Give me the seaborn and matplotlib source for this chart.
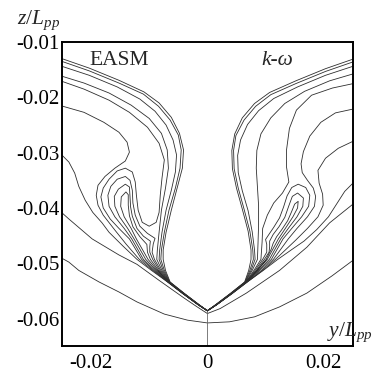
import pandas as pd
import matplotlib
matplotlib.use("Agg")
import matplotlib.pyplot as plt
import seaborn as sns
from matplotlib.ticker import MultipleLocator, FuncFormatter

# Contour lines, (y/Lpp, z/Lpp) in units of 1e-3
# EASM (left half)
easm_t1 = [(-25.5, -12.8), (-20.3, -14.7), (-15.2, -16.9), (-10.9, -19.0), (-8.3, -21.0), (-6.2, -23.6),
           (-4.8, -26.5), (-4.1, -29.5), (-4.3, -32.8), (-5.2, -36.4), (-6.2, -40.4), (-7.1, -44.4),
           (-7.6, -47.6), (-7.6, -49.3), (-7.2, -51.3), (-6.4, -53.4), (-3.9, -55.5), (-1.4, -57.5), (0, -58.6)]
easm_t2 = [(-25.5, -13.3), (-20.3, -15.2), (-15.2, -17.4), (-11.0, -19.4), (-8.4, -21.6), (-6.4, -24.1),
           (-5.0, -26.8), (-4.5, -29.5), (-4.7, -32.8), (-5.5, -36.4), (-6.6, -40.4), (-7.4, -44.4),
           (-7.9, -47.6), (-8.0, -49.3), (-7.4, -51.3), (-6.45, -53.4), (-3.95, -55.5), (-1.45, -57.5), (0, -58.6)]
easm_t3 = [(-25.5, -14.2), (-20.3, -16.0), (-15.5, -18.1), (-11.6, -20.3), (-9.0, -22.5), (-7.1, -25.0),
           (-5.9, -27.7), (-5.3, -30.4), (-5.5, -33.5), (-6.2, -36.8), (-7.1, -40.4), (-7.8, -44.4),
           (-8.2, -47.6), (-8.3, -49.3), (-7.6, -51.3), (-6.5, -53.4), (-4.0, -55.5), (-1.5, -57.5), (0, -58.6)]
easm_c4 = [(-25.5, -16.0), (-21.2, -17.4), (-16.9, -19.2), (-13.1, -21.4), (-10.0, -23.8), (-7.9, -26.5),
           (-6.9, -29.5), (-6.7, -32.8), (-7.2, -36.4), (-7.9, -40.4), (-8.3, -44.4), (-8.6, -47.6),
           (-8.7, -49.3), (-7.8, -51.3), (-6.55, -53.4), (-4.02, -55.5), (-1.52, -57.5), (0, -58.6)]
easm_c5 = [(-25.5, -16.9), (-21.2, -18.5), (-16.9, -20.5), (-13.4, -22.7), (-10.3, -25.4), (-8.3, -28.3),
           (-7.4, -31.3), (-7.8, -34.6), (-8.1, -37.7), (-8.3, -40.8), (-8.8, -42.6), (-10.0, -43.3),
           (-11.2, -42.6), (-11.9, -40.4), (-12.2, -37.7), (-12.4, -35.3), (-12.9, -33.5), (-14.1, -32.8),
           (-15.5, -33.3), (-16.9, -34.8), (-17.9, -36.4), (-18.3, -38.0), (-17.9, -40.0), (-16.7, -42.0),
           (-15.2, -43.7), (-13.4, -45.6), (-11.3, -49.3), (-9.2, -51.3), (-6.75, -53.4), (-4.18, -55.5),
           (-1.59, -57.5), (0, -58.6)]
easm_c6 = [(-25.5, -21.4), (-21.2, -22.7), (-17.8, -24.5), (-15.2, -26.3), (-13.8, -28.1), (-13.4, -29.9),
           (-14.1, -31.5), (-15.9, -32.8), (-17.6, -34.3), (-18.8, -35.9), (-19.1, -37.7), (-18.8, -39.5),
           (-17.9, -41.3), (-15.9, -44.0), (-14.0, -46.5), (-11.7, -49.3), (-9.4, -51.3), (-6.8, -53.4),
           (-4.2, -55.5), (-1.6, -57.5), (0, -58.6)]
easm_c7 = [(-25.5, -29.9), (-23.8, -31.7), (-22.8, -33.7), (-22.1, -36.1), (-21.0, -38.6), (-19.7, -40.8),
           (-18.1, -42.7), (-16.9, -44.4), (-14.5, -46.9), (-12.1, -49.3), (-9.6, -51.3), (-6.85, -53.4),
           (-4.25, -55.5), (-1.62, -57.5), (0, -58.6)]
easm_m1 = [(0, -58.6), (-1.58, -57.5), (-4.16, -55.5), (-6.72, -53.4), (-9.0, -51.3), (-11.0, -49.3),
           (-13.0, -45.6), (-14.3, -43.7), (-15.9, -41.6), (-16.9, -39.7), (-17.1, -37.7), (-16.6, -36.1),
           (-15.5, -34.8), (-14.1, -34.3), (-13.3, -35.0), (-12.9, -36.8), (-12.8, -39.1), (-12.4, -41.3),
           (-11.6, -43.3), (-10.3, -44.6), (-9.0, -45.5), (-9.3, -46.5), (-9.5, -48.0), (-9.1, -49.3),
           (-8.0, -51.3), (-6.6, -53.4), (-4.05, -55.5), (-1.53, -57.5), (0, -58.6)]
easm_m2 = [(0, -58.6), (-1.57, -57.5), (-4.14, -55.5), (-6.7, -53.4), (-8.8, -51.3), (-10.6, -49.3),
           (-12.6, -45.6), (-13.7, -43.7), (-15.1, -41.6), (-15.9, -39.7), (-16.0, -37.9), (-15.3, -36.6),
           (-14.1, -35.7), (-13.4, -36.2), (-13.3, -37.9), (-13.2, -39.8), (-12.9, -41.5), (-12.1, -43.7),
           (-11.0, -45.1), (-9.8, -46.0), (-9.9, -47.0), (-9.9, -48.0), (-9.4, -49.3), (-8.2, -51.3),
           (-6.62, -53.4), (-4.07, -55.5), (-1.54, -57.5), (0, -58.6)]
easm_m3 = [(0, -58.6), (-1.56, -57.5), (-4.12, -55.5), (-6.68, -53.4), (-8.6, -51.3), (-10.2, -49.3),
           (-12.2, -45.6), (-13.1, -43.7), (-14.3, -41.6), (-14.9, -39.7), (-14.8, -38.0), (-14.0, -37.1),
           (-13.6, -37.6), (-13.6, -39.5), (-13.4, -41.4), (-12.8, -43.4), (-11.6, -45.2), (-10.4, -46.6),
           (-10.3, -48.0), (-9.8, -49.3), (-8.4, -51.3), (-6.65, -53.4), (-4.1, -55.5), (-1.55, -57.5), (0, -58.6)]

# k-omega (right half)
kw_t1 = [(25.5, -12.9), (20.3, -14.8), (15.2, -17.0), (10.7, -19.1), (8.1, -21.1), (6.0, -23.7),
         (4.7, -26.6), (4.2, -29.6), (4.3, -32.9), (5.0, -36.4), (6.0, -40.2), (7.0, -44.2),
         (7.5, -47.6), (7.5, -49.3), (7.1, -51.3), (6.4, -53.4), (3.9, -55.5), (1.4, -57.5), (0, -58.6)]
kw_t2 = [(25.5, -13.4), (20.3, -15.3), (15.2, -17.5), (10.9, -19.5), (8.3, -21.6), (6.3, -24.1),
         (4.9, -26.9), (4.5, -29.6), (4.6, -32.9), (5.3, -36.4), (6.3, -40.2), (7.3, -44.2),
         (7.8, -47.6), (7.9, -49.3), (7.3, -51.3), (6.45, -53.4), (3.95, -55.5), (1.45, -57.5), (0, -58.6)]
kw_t3 = [(25.5, -14.2), (20.3, -16.0), (15.5, -18.1), (11.4, -20.2), (8.8, -22.4), (6.9, -24.9),
         (5.7, -27.7), (5.2, -30.5), (5.3, -33.6), (6.0, -36.9), (7.0, -40.5), (7.7, -44.3),
         (8.1, -47.6), (8.2, -49.3), (7.5, -51.3), (6.5, -53.4), (4.0, -55.5), (1.5, -57.5), (0, -58.6)]
kw_c4 = [(25.5, -15.6), (21.0, -17.0), (16.7, -18.9), (13.3, -21.1), (10.9, -23.7), (9.2, -26.6),
         (8.5, -29.6), (8.4, -32.8), (8.6, -36.2), (8.8, -39.6), (8.8, -43.0), (8.7, -46.4),
         (8.6, -49.3), (7.7, -51.3), (6.55, -53.4), (4.02, -55.5), (1.52, -57.5), (0, -58.6)]
kw_c5 = [(25.5, -17.4), (21.5, -18.3), (17.9, -19.6), (15.3, -22.3), (14.1, -25.6), (13.6, -29.5),
         (13.6, -32.6), (14.0, -35.3), (12.9, -37.3), (11.4, -39.1), (10.3, -41.3), (9.5, -43.7),
         (9.4, -46.2), (9.2, -49.3), (8.0, -51.3), (6.6, -53.4), (4.05, -55.5), (1.53, -57.5), (0, -58.6)]
kw_c6 = [(25.5, -22.0), (22.0, -22.8), (19.5, -24.5), (17.6, -27.0), (16.5, -29.8), (16.1, -32.0),
         (16.3, -33.6), (17.2, -35.0), (18.2, -36.4), (18.6, -37.9), (18.4, -39.7), (17.2, -41.6),
         (15.4, -43.7), (13.9, -45.6), (11.35, -49.3), (9.3, -51.3), (6.8, -53.4), (4.2, -55.5),
         (1.6, -57.5), (0, -58.6)]
kw_c7 = [(25.5, -27.7), (22.5, -29.2), (20.3, -31.0), (19.0, -33.2), (19.2, -35.5), (19.8, -37.5),
         (19.9, -39.5), (19.0, -41.6), (17.2, -43.7), (15.2, -45.8), (11.7, -49.3), (9.5, -51.3),
         (6.85, -53.4), (4.22, -55.5), (1.61, -57.5), (0, -58.6)]
kw_c8 = [(25.5, -35.0), (23.6, -37.0), (22.2, -39.3), (20.8, -41.6), (18.8, -43.9), (16.6, -46.0),
         (14.4, -47.6), (12.1, -49.3), (9.6, -51.3), (6.85, -53.4), (4.25, -55.5), (1.62, -57.5), (0, -58.6)]
kw_m1 = [(0, -58.6), (1.58, -57.5), (4.16, -55.5), (6.72, -53.4), (9.0, -51.3), (11.0, -49.3),
         (13.0, -45.6), (14.5, -43.7), (16.2, -41.6), (17.4, -39.7), (17.6, -37.7), (16.9, -36.3),
         (15.6, -35.7), (14.5, -36.3), (13.7, -37.8), (13.1, -39.8), (12.4, -41.8), (11.4, -43.5),
         (10.5, -44.9), (10.0, -45.7), (10.2, -46.6), (10.2, -48.0), (9.5, -49.3), (8.2, -51.3),
         (6.62, -53.4), (4.07, -55.5), (1.54, -57.5), (0, -58.6)]
kw_m2 = [(0, -58.6), (1.57, -57.5), (4.14, -55.5), (6.7, -53.4), (8.8, -51.3), (10.65, -49.3),
         (12.6, -45.6), (13.9, -43.7), (15.4, -41.6), (16.4, -39.7), (16.5, -38.2), (15.5, -37.3),
         (14.6, -37.9), (14.0, -39.6), (13.3, -41.7), (12.3, -43.4), (11.3, -44.8), (10.7, -46.0),
         (10.7, -47.0), (10.6, -48.0), (9.8, -49.3), (8.4, -51.3), (6.65, -53.4), (4.1, -55.5),
         (1.55, -57.5), (0, -58.6)]
kw_m3 = [(0, -58.6), (1.56, -57.5), (4.12, -55.5), (6.68, -53.4), (8.6, -51.3), (10.3, -49.3),
         (12.2, -45.6), (13.4, -43.7), (14.7, -41.6), (15.5, -40.0), (15.6, -38.8), (15.0, -39.3),
         (14.5, -40.6), (13.8, -42.3), (12.8, -43.9), (11.9, -45.2), (11.3, -46.4), (10.95, -47.5),
         (10.1, -49.3), (8.5, -51.3), (6.66, -53.4), (4.11, -55.5), (1.55, -57.5), (0, -58.6)]

# outer lines that run under the keel from one side to the other
bottom_a = [(-25.5, -40.4), (-23.8, -42.0), (-19.8, -45.6), (-15.2, -48.5), (-12.1, -50.2), (-8.3, -53.1),
            (-4.0, -56.3), (-1.9, -57.8), (0, -59.1), (2.2, -58.2), (6.7, -55.4), (12.4, -51.3),
            (17.1, -47.1), (21.0, -42.7), (25.5, -38.9)]
bottom_b = [(-25.5, -48.8), (-23.8, -49.8), (-22.1, -51.3), (-18.6, -53.4), (-15.2, -55.2), (-12.1, -57.0),
            (-7.4, -59.2), (-3.4, -60.3), (0, -60.8), (3.8, -60.6), (8.1, -59.7), (12.4, -57.9),
            (17.1, -55.4), (21.4, -52.3), (25.5, -49.1)]

# symmetry plane below the keel
centre_y = [0.0, 0.0]
centre_z = [-58.6, -65.0]

lines = {
    "easm_t1": easm_t1, "easm_t2": easm_t2, "easm_t3": easm_t3, "easm_c4": easm_c4,
    "easm_c5": easm_c5, "easm_c6": easm_c6, "easm_c7": easm_c7,
    "easm_m1": easm_m1, "easm_m2": easm_m2, "easm_m3": easm_m3,
    "kw_t1": kw_t1, "kw_t2": kw_t2, "kw_t3": kw_t3, "kw_c4": kw_c4,
    "kw_c5": kw_c5, "kw_c6": kw_c6, "kw_c7": kw_c7, "kw_c8": kw_c8,
    "kw_m1": kw_m1, "kw_m2": kw_m2, "kw_m3": kw_m3,
    "bottom_a": bottom_a, "bottom_b": bottom_b,
}

rows = []
for name, pts in lines.items():
    for i, (y, z) in enumerate(pts):
        rows.append({"line": name, "order": i, "y": y * 1e-3, "z": z * 1e-3})
df = pd.DataFrame(rows)

sns.set_style("white")
plt.rcParams["font.family"] = ["Liberation Serif", "DejaVu Serif"]
plt.rcParams["mathtext.fontset"] = "custom"
plt.rcParams["mathtext.rm"] = "Liberation Serif"
plt.rcParams["mathtext.it"] = "Liberation Serif:italic"

fig = plt.figure(figsize=(3.73, 3.73), dpi=100)
ax = fig.add_axes([0.166, 0.072, 0.780, 0.815])

sns.lineplot(data=df, x="y", y="z", units="line", estimator=None, sort=False,
             color="#2e2e2e", lw=0.6, legend=False, ax=ax)
ax.plot(centre_y, [v * 1e-3 for v in centre_z], color="#666666", lw=0.6)

ax.set_xlim(-0.025, 0.025)
ax.set_ylim(-0.065, -0.01)
ax.set_xlabel("")
ax.set_ylabel("")

fmt = FuncFormatter(lambda v, p: "0" if abs(v) < 1e-9 else f"{v:.2f}")
ax.xaxis.set_major_locator(MultipleLocator(0.02))
ax.xaxis.set_minor_locator(MultipleLocator(0.005))
ax.yaxis.set_major_locator(MultipleLocator(0.01))
ax.yaxis.set_minor_locator(MultipleLocator(0.002))
ax.xaxis.set_major_formatter(fmt)
ax.yaxis.set_major_formatter(fmt)
ax.tick_params(which="both", direction="in", top=False, right=False, colors="black", labelsize=15)
ax.tick_params(which="major", length=5, width=1.2)
ax.tick_params(which="minor", length=3, width=0.8)
ax.tick_params(axis="x", which="major", pad=6)
ax.tick_params(axis="y", which="major", pad=1.5)
for s in ax.spines.values():
    s.set_visible(True)
    s.set_color("black")
    s.set_linewidth(1.4)

ax.text(-0.0203, -0.0133, "EASM", fontsize=15.5, va="center", ha="left")
ax.text(0.0093, -0.0133, "k-ω", fontsize=15.5, fontstyle="italic", va="center", ha="left")
ax.text(0.0205, -0.0632, r"$y/L_{pp}$", fontsize=15.5, ha="left", va="baseline", clip_on=False)
fig.text(0.046, 0.914, r"$z/L_{pp}$", fontsize=15.5, ha="left", va="bottom")

fig.savefig("out.png", dpi=100)
